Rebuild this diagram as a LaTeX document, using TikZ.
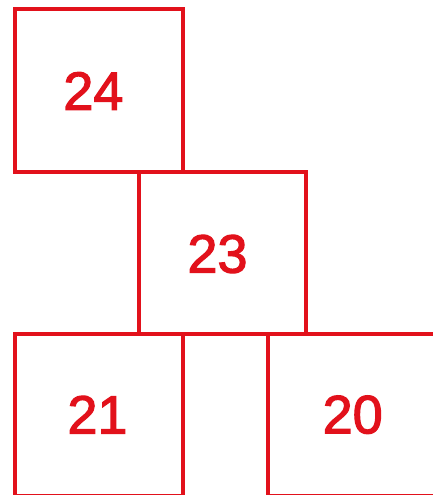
\documentclass[tikz,border=0pt]{standalone}
\usepackage{fontspec}
\newfontfamily\numfont{Liberation Sans}[RawFeature={embolden=2.2}]
\definecolor{rd}{RGB}{226,17,27}
\begin{document}
\begin{tikzpicture}[x=1pt,y=-1pt,
  box/.style={draw=rd, line width=4pt, rectangle, inner sep=0pt, outer sep=0pt, anchor=north west},
  num/.style={text=rd, font=\numfont\fontsize{54}{54}\selectfont, inner sep=0pt}]
\useasboundingbox (0,0) rectangle (433,495);
\clip (0,0) rectangle (433,495);
\node[box, minimum width=167.7pt, minimum height=162pt] (b24) at (15.3,9.5) {};
\node[box, minimum width=167.3pt, minimum height=162pt] (b23) at (138.7,172) {};
\node[box, minimum width=167.7pt, minimum height=162pt] (b21) at (15.3,334) {};
\node[box, minimum width=167.7pt, minimum height=162pt] (b20) at (267.7,334) {};
\node[num] (t24) at (93.4,91) {24};
\node[num] (t23) at (217.5,254) {23};
\node[num] (t21) at (97.5,414.7) {21};
\node[num] (t20) at (352.7,414.7) {20};
\end{tikzpicture}
\end{document}
